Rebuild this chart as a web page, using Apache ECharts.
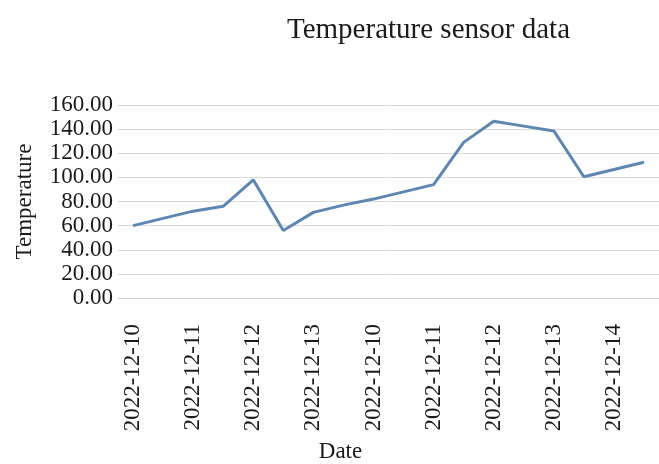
<!DOCTYPE html>
<html>
<head>
<meta charset="utf-8">
<script src="https://cdn.jsdelivr.net/npm/echarts@6/dist/echarts.min.js"></script>
<style>
html,body{margin:0;padding:0;background:#fff;}
#chart{width:659px;height:464px;}
</style>
</head>
<body>
<div id="chart"></div>
<script>
var categories = [
  "2022-12-10", "2022-12-10 12:00",
  "2022-12-11", "2022-12-11 12:00",
  "2022-12-12", "2022-12-12 12:00",
  "2022-12-13", "2022-12-13 12:00",
  "2022-12-10 ", "2022-12-10 12:00 ",
  "2022-12-11 ", "2022-12-11 12:00 ",
  "2022-12-12 ", "2022-12-12 12:00 ",
  "2022-12-13 ", "2022-12-13 12:00 ",
  "2022-12-14", "2022-12-14 12:00"
];
var temperature = [60, 66, 72, 76, 98, 56, 71, 77, 82, 88, 94, 129, 146.5, 142.5, 138.5, 100.5, 106.5, 112.5];
var yTicks = [0, 20, 40, 60, 80, 100, 120, 140, 160];

var chart = echarts.init(document.getElementById('chart'));
var font = '"Liberation Serif", "Times New Roman", serif';
chart.setOption({
  animation: false,
  backgroundColor: '#ffffff',
  title: {
    text: 'Temperature sensor data',
    left: 282,
    top: 11,
    textStyle: { fontFamily: font, fontSize: 29, fontWeight: 'normal', color: '#1a1a1a' }
  },
  grid: { left: 118, top: 105, width: 550, bottom: 162, containLabel: false },
  xAxis: {
    type: 'category',
    data: categories,
    boundaryGap: true,
    name: 'Date',
    nameLocation: 'middle',
    nameGap: 142,
    nameTextStyle: { fontFamily: font, fontSize: 23, color: '#1a1a1a', padding: [0, 96, 0, 0] },
    axisLine: { show: true, lineStyle: { color: '#cfcfcf', width: 1 } },
    axisTick: { show: false },
    axisLabel: {
      interval: 1,
      rotate: 90,
      margin: 26,
      fontFamily: font,
      fontSize: 23,
      color: '#1a1a1a',
      formatter: function (v) { return v.trim().slice(0, 10); }
    }
  },
  yAxis: {
    type: 'value',
    min: yTicks[0],
    max: yTicks[yTicks.length - 1],
    interval: yTicks[1] - yTicks[0],
    name: 'Temperature',
    nameLocation: 'middle',
    nameGap: 82,
    nameTextStyle: { fontFamily: font, fontSize: 23, color: '#1a1a1a' },
    axisLine: { show: false },
    axisTick: { show: false },
    axisLabel: {
      margin: 5,
      fontFamily: font,
      fontSize: 23,
      color: '#1a1a1a',
      formatter: function (v) { return v.toFixed(2); }
    },
    splitLine: { show: true, lineStyle: { color: '#d9d9d9', width: 1 } }
  },
  series: [{
    type: 'line',
    data: temperature,
    showSymbol: false,
    symbol: 'none',
    lineStyle: { color: '#5e87b0', width: 3 },
    itemStyle: { color: '#5e87b0' }
  }]
});
</script>
</body>
</html>
